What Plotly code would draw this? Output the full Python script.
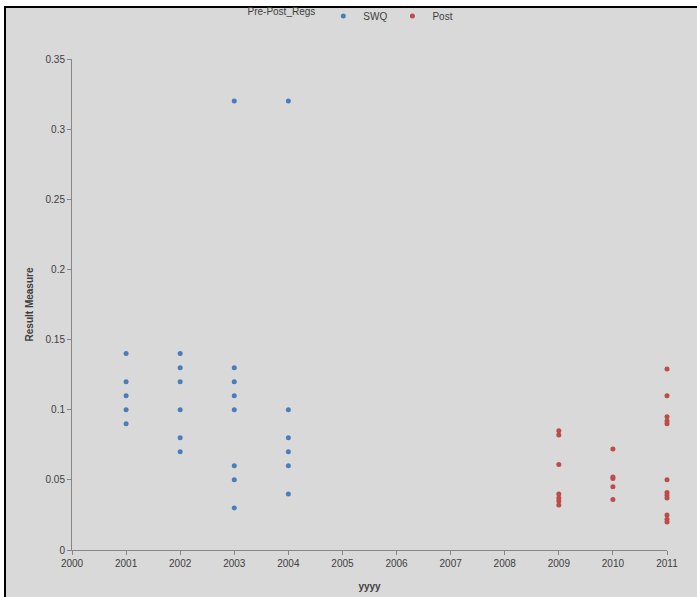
import plotly.graph_objects as go

# Data
swq_years = [2001]*5 + [2002]*6 + [2003]*8 + [2004]*6
swq_values = [0.14, 0.12, 0.11, 0.10, 0.09,
              0.14, 0.13, 0.12, 0.10, 0.08, 0.07,
              0.32, 0.13, 0.12, 0.11, 0.10, 0.06, 0.05, 0.03,
              0.32, 0.10, 0.08, 0.07, 0.06, 0.04]

post_years = [2009]*7 + [2010]*5 + [2011]*12
post_values = [0.085, 0.082, 0.061, 0.040, 0.037, 0.035, 0.032,
               0.072, 0.052, 0.051, 0.045, 0.036,
               0.129, 0.110, 0.095, 0.092, 0.090, 0.050, 0.041, 0.039, 0.037, 0.025, 0.022, 0.020]

y_ticks = [0, 0.05, 0.1, 0.15, 0.2, 0.25, 0.3, 0.35]
y_tick_labels = ["0", "0.05", "0.1", "0.15", "0.2", "0.25", "0.3", "0.35"]
x_ticks = list(range(2000, 2012))

W, H = 697, 597
L, R, T, B = 72, 30, 59, 47
pw, ph = W - L - R, H - T - B

def px(x):
    return (x - L) / pw

def py(y):
    return (H - B - y) / ph

fig = go.Figure()
fig.add_trace(go.Scatter(x=swq_years, y=swq_values, mode="markers", name="SWQ", cliponaxis=False,
                         marker=dict(color="#4a7ebb", size=5)))
fig.add_trace(go.Scatter(x=post_years, y=post_values, mode="markers", name="Post", cliponaxis=False,
                         marker=dict(color="#be4b48", size=5)))

grey = "#d9d9d9"
shapes = [
    dict(type="rect", xref="paper", yref="paper", x0=px(0), x1=px(W), y0=py(0), y1=py(6),
         fillcolor="white", line=dict(width=0), layer="below"),
    dict(type="rect", xref="paper", yref="paper", x0=px(0), x1=px(4), y0=py(0), y1=py(H),
         fillcolor="white", line=dict(width=0), layer="below"),
    dict(type="line", xref="paper", yref="paper", x0=px(4), x1=px(W), y0=py(7), y1=py(7),
         line=dict(color="black", width=2)),
    dict(type="line", xref="paper", yref="paper", x0=px(5), x1=px(5), y0=py(6), y1=py(H),
         line=dict(color="black", width=2)),
]

fig.update_layout(
    width=W, height=H,
    margin=dict(l=L, r=R, t=T, b=B, autoexpand=False),
    paper_bgcolor=grey, plot_bgcolor=grey,
    font=dict(family="Liberation Sans, Arial", size=10, color="#404040"),
    showlegend=True,
    legend=dict(orientation="h", xref="container", yref="container",
                x=352 / W, xanchor="center", y=1 - 16 / H, yanchor="middle",
                title=dict(text="Pre-Post_Regs", font=dict(size=10)),
                font=dict(size=10), bgcolor="rgba(0,0,0,0)", itemwidth=30),
    shapes=shapes,
    xaxis=dict(range=[2000, 2011], tickvals=x_ticks, ticktext=[str(v) for v in x_ticks],
               showgrid=False, zeroline=False, showline=True, linecolor="#868686", linewidth=1,
               ticks="outside", ticklen=4, tickcolor="#868686",
               title=dict(text="<b>yyyy</b>", font=dict(size=10, color="#404040"), standoff=14)),
    yaxis=dict(range=[0, 0.35], tickvals=y_ticks, ticktext=y_tick_labels,
               showgrid=False, zeroline=False, showline=True, linecolor="#868686", linewidth=1,
               ticks="outside", ticklen=4, tickcolor="#868686",
               title=dict(text="<b>Result Measure</b>", font=dict(size=10, color="#404040"), standoff=10)),
)

fig.write_html("out.html", config={"displayModeBar": False},
               post_script="document.body.style.margin='0';document.body.style.overflow='hidden';")
